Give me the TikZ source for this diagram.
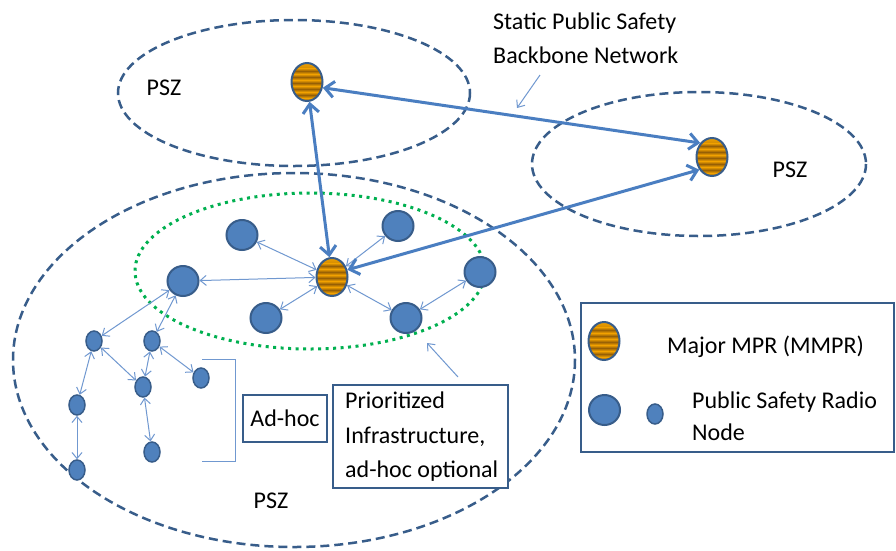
\documentclass[tikz,border=0pt]{standalone}
\usepackage{fontspec}
\setmainfont{Carlito}
\usetikzlibrary{arrows.meta,calc,shapes.geometric}
\definecolor{pszline}{RGB}{56,93,138}
\definecolor{nodefill}{RGB}{79,129,189}
\definecolor{nodeline}{RGB}{56,93,138}
\definecolor{thickblue}{RGB}{74,126,193}
\definecolor{edgelite}{RGB}{112,152,208}
\definecolor{grn}{RGB}{0,176,80}
\definecolor{mmpo}{RGB}{242,162,0}
\definecolor{mmpb}{RGB}{150,95,5}
\begin{document}
\begin{tikzpicture}[x=1pt,y=-1pt,
  font=\fontsize{24}{30}\selectfont,
  zone/.style={draw=pszline, line width=2.5pt, dash pattern=on 9pt off 5pt},
  prio/.style={draw=grn, line width=3pt, dash pattern=on 3pt off 4.5pt},
  bignode/.style={ellipse, draw=nodeline, fill=nodefill, line width=2pt, minimum width=31pt, minimum height=30pt, inner sep=0pt},
  smallnode/.style={ellipse, draw=nodeline, fill=nodefill, line width=1.5pt, minimum width=16pt, minimum height=20pt, inner sep=0pt},
  mmpr/.style={ellipse, draw=nodeline, fill=mmpo, line width=2pt, minimum width=31pt, minimum height=38pt, inner sep=0pt,
    path picture={
      \foreach \k in {0,...,7}{
        \shade[top color=mmpo, bottom color=mmpo, middle color=mmpb]
          ($(path picture bounding box.north west)+(-2,\k*6-1)$) rectangle
          ($(path picture bounding box.north east)+(2,\k*6+5)$);
      }
    }},
  thinedge/.style={draw=edgelite, line width=1pt, >={Straight Barb[length=6pt,width=10pt]}, <->},
  thickedge/.style={draw=thickblue, line width=3pt, >={Straight Barb[length=9pt,width=16pt]}, <->},
  annot/.style={draw=edgelite, line width=1pt, -{Straight Barb[length=6pt,width=10pt]}},
  box/.style={draw=nodeline, line width=2.5pt, fill=white, inner sep=0pt},
  txt/.style={anchor=base west, inner sep=0pt},
  ctxt/.style={anchor=base, inner sep=0pt}
]
\useasboundingbox (0,0) rectangle (896,550);
\fill[white] (0,0) rectangle (896,550);

% zones
\draw[zone] (294,93) ellipse [x radius=176, y radius=73];
\draw[zone] (699,164) ellipse [x radius=167, y radius=72];
\draw[zone] (294,360) ellipse [x radius=281, y radius=187];
\draw[prio] (310,271) ellipse [x radius=175, y radius=78];

% nodes
\node[mmpr] (m1) at (307,82) {};
\node[mmpr] (m2) at (712,157) {};
\node[mmpr] (m3) at (332,277) {};

\node[bignode] (b1) at (242,235) {};
\node[bignode] (b2) at (183,281) {};
\node[bignode] (b3) at (266,318) {};
\node[bignode] (b4) at (398,226) {};
\node[bignode] (b5) at (480,272) {};
\node[bignode] (b6) at (406,318) {};

\node[smallnode] (s1) at (94,341) {};
\node[smallnode] (s2) at (152,341) {};
\node[smallnode] (s3) at (143,387) {};
\node[smallnode] (s4) at (201,378) {};
\node[smallnode] (s5) at (77,405) {};
\node[smallnode] (s6) at (152,452) {};
\node[smallnode] (s7) at (77,470) {};

% thin edges
\draw[thinedge] (m3) -- (b1);
\draw[thinedge] (m3) -- (b2);
\draw[thinedge] (m3) -- (b3);
\draw[thinedge] (m3) -- (b4);
\draw[thinedge] (m3) -- (b6);
\draw[thinedge] (b6) -- (b5);
\draw[thinedge] (b2) -- (s1);
\draw[thinedge] (b2) -- (s2);
\draw[thinedge] (s1) -- (s5);
\draw[thinedge] (s1) -- (s3);
\draw[thinedge] (s2) -- (s3);
\draw[thinedge] (s2) -- (s4);
\draw[thinedge] (s3) -- (s6);
\draw[thinedge] (s5) -- (s7);

% thick edges
\draw[thickedge] (m1) -- (m3);
\draw[thickedge] (m1.-20) -- (m2.130);
\draw[thickedge] (m3.25) -- (m2.225);

% annotation arrows
\coordinate (a1s) at (540,75);
\coordinate (a1e) at (517,108);
\draw[annot] (a1s) -- (a1e);
\coordinate (a2s) at (458,377);
\coordinate (a2e) at (427,343);
\draw[annot] (a2s) -- (a2e);

% bracket
\coordinate (br1) at (202,359);
\coordinate (br2) at (235,359);
\coordinate (br3) at (235,461);
\coordinate (br4) at (202,461);
\draw[draw=edgelite, line width=1pt] (br1) -- (br2) -- (br3) -- (br4);

% boxes
\node[box, minimum width=84pt, minimum height=47pt] (adhoc) at (285,418.5) {Ad-hoc};
\node[box, minimum width=175pt, minimum height=103pt] (prbox) at (420.5,436.5) {};
\node[txt] (pr1) at (345,408) {Prioritized};
\node[txt] (pr2) at (345,443) {Infrastructure,};
\node[txt] (pr3) at (345,477) {ad-hoc optional};

% legend
\node[box, minimum width=313pt, minimum height=149pt] (legend) at (737.5,377.5) {};
\node[mmpr] (lm) at (604,341) {};
\node[bignode] (lb) at (604.5,410) {};
\node[smallnode] (ls) at (655,414) {};
\node[txt] (lt1) at (667,353) {Major MPR (MMPR)};
\node[txt] (lt2) at (692,408) {Public Safety Radio};
\node[txt] (lt3) at (692,440) {Node};

% labels
\node[txt] (st1) at (493,29) {Static Public Safety};
\node[txt] (st2) at (493,63) {Backbone Network};
\node[ctxt] (psz1) at (164,95) {PSZ};
\node[ctxt] (psz2) at (790,177) {PSZ};
\node[ctxt] (psz3) at (271,508) {PSZ};
\end{tikzpicture}
\end{document}
